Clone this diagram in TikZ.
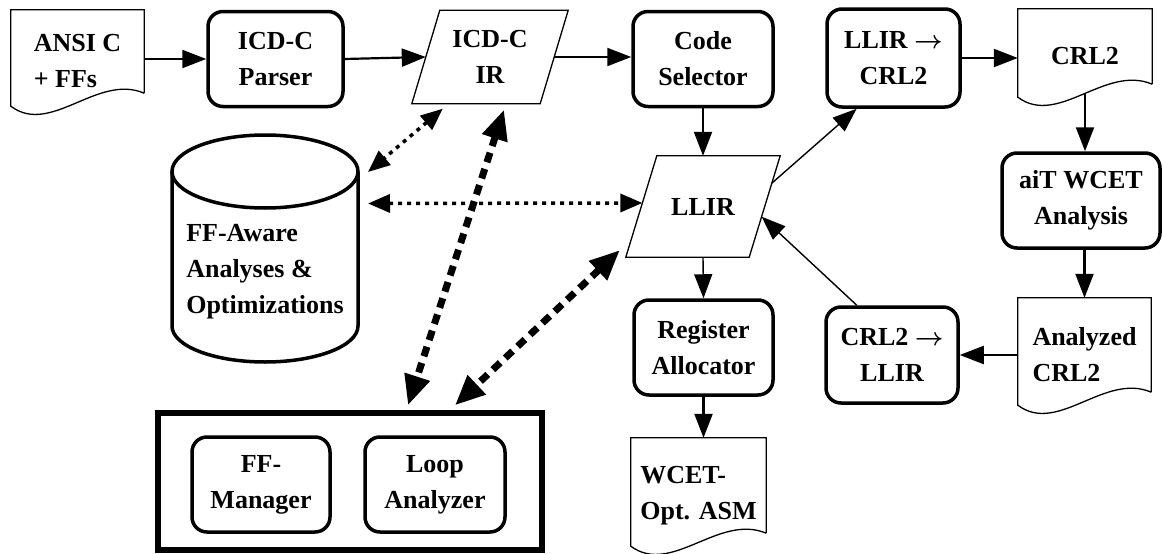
\documentclass[tikz,border=0pt]{standalone}
\usepackage{fontspec}
\setmainfont{Liberation Serif}
\usepackage{tikz}
\usetikzlibrary{positioning,arrows.meta,shapes.geometric,calc}

\tikzset{
  every node/.style={font=\fontsize{26}{36}\selectfont\bfseries},
  tool/.style={draw, line width=3.5pt, rounded corners=15pt, align=center,
    inner sep=2pt, minimum height=95pt},
  irdata/.style={align=center, inner sep=2pt},
  docfile/.style={align=left, inner sep=0pt},
  flow/.style={-{Triangle[length=24pt,width=18pt]}, line width=2.2pt},
  thinflow/.style={flow, line width=1.4pt},
  dotlink/.style={{Triangle[length=22pt,width=18pt]}-{Triangle[length=22pt,width=18pt]},
    line width=3.5pt, dash pattern=on 4pt off 5pt},
  dashlink/.style={{Triangle[length=30pt,width=25pt]}-{Triangle[length=30pt,width=25pt]},
    line width=7pt, dash pattern=on 10pt off 7pt}
}

% document outline with wavy bottom (node spans top to lowest point of the wave)
\newcommand{\docoutline}[1]{%
  \draw[line width=1.3pt] ($(#1.south east)+(0,-20)$) -- (#1.north east) -- (#1.north west)
    -- ($(#1.south west)+(0,-7)$)
    .. controls ($(#1.south west)!0.3!(#1.south east)+(0,23)$)
    and ($(#1.south west)!0.65!(#1.south east)+(0,-40)$) .. ($(#1.south east)+(0,-20)$);}

% slanted data outline, #2 = horizontal offset of the top edge
\newcommand{\irslant}[2]{%
  \coordinate (#1-bl) at (#1.south west);
  \coordinate (#1-tl) at ($(#1.north west)+(#2,0)$);
  \coordinate (#1-tr) at (#1.north east);
  \coordinate (#1-br) at ($(#1.south east)+(-#2,0)$);
  \draw[line width=1.3pt] (#1-bl) -- (#1-tl) -- (#1-tr) -- (#1-br) -- cycle;}

\newcommand{\toarrow}{{\boldmath$\rightarrow$}}

\begin{document}
\begin{tikzpicture}[x=1pt,y=-1pt]
  \useasboundingbox (0,0) rectangle (1163,554);

  % Front end
  \node[docfile, minimum width=133pt, minimum height=103pt] (ansi) at (77.5,61.5) {ANSI C\\+ FFs};
  \docoutline{ansi}
  \node[tool, minimum width=135pt] (parser) at (275.5,59) {ICD-C\\Parser};
  \node[irdata, minimum width=156pt, minimum height=93pt] (ir) at (490,57) {ICD-C\\IR};
  \irslant{ir}{28}
  \node[tool, minimum width=140pt] (cs) at (703,59) {Code\\Selector};

  % Back end
  \node[irdata, minimum width=154pt, minimum height=101pt] (llir) at (703,206.5) {LLIR};
  \irslant{llir}{31}
  \node[tool, minimum width=139pt] (reg) at (703.5,347.5) {Register\\Allocator};
  \node[docfile, minimum width=135pt, minimum height=115pt] (wcet) at (698.5,495.5) {WCET-\\Opt. ASM};
  \docoutline{wcet}

  % WCET analysis loop
  \node[tool, minimum width=133pt, minimum height=98pt] (llc) at (893.5,58) {LLIR \toarrow\\CRL2};
  \node[docfile, minimum width=134pt, minimum height=95pt] (crl) at (1085,56.5) {CRL2};
  \docoutline{crl}
  \node[tool, minimum width=158pt] (ait) at (1081,200.5) {aiT WCET\\Analysis};
  \node[docfile, minimum width=133pt, minimum height=114pt] (acrl) at (1084.5,355) {Analyzed\\CRL2};
  \docoutline{acrl}
  \node[tool, minimum width=132pt, minimum height=96pt] (cl) at (892,355) {CRL2 \toarrow\\LLIR};

  % Optimizations and flow fact tools
  \node[minimum width=186pt, minimum height=227pt, inner sep=0pt, outer sep=0pt] (dbshape) at (265,248.5) {};
  \draw[line width=3.5pt] ($(dbshape.north west)+(0,36.5)$) -- ($(dbshape.south west)+(0,-36)$)
    arc[start angle=180, end angle=360, x radius=93pt, y radius=36pt]
    -- ($(dbshape.north east)+(0,36.5)$);
  \draw[line width=3.5pt] ($(dbshape.north)+(0,36.5)$) ellipse[x radius=93pt, y radius=36.5pt];
  \node[align=left] (db) at (265,272) {FF-Aware\\Analyses \&\\Optimizations};
  \node[draw, line width=5.5pt, minimum width=384pt, minimum height=137pt] (tools) at (350,481.5) {};
  \node[tool, minimum width=138pt] (ffm) at (261,484.5) {FF-\\Manager};
  \node[tool, minimum width=140pt] (loop) at (435,484.5) {Loop\\Analyzer};

  % Compiler flow
  \draw[flow] (parser.west -| ansi.east) -- (parser.west);
  \draw[flow] (parser.east) -- ($(ir.west)+(14,0)$);
  \draw[flow] ($(ir.east)+(-14,0)$) -- (ir.east -| cs.west);
  \draw[flow] (cs) -- (llir.north);
  \draw[thinflow] (llir.south) -- (reg.north);
  \draw[flow] (reg.south) -- (reg.south |- wcet.north);
  \draw[thinflow] ($(llir-tr)!0.27!(llir-br)$) -- ($(llc.south west)!0.23!(llc.south east)$);
  \draw[flow] (llc) -- (llc -| crl.west);
  \draw[flow] ($(crl.south)+(0,-10)$) -- (crl.south |- ait.north);
  \draw[flow] (acrl.north |- ait.south) -- (acrl.north);
  \draw[flow] (acrl.west) -- (acrl.west -| cl.east);
  \draw[thinflow] ($(cl.north west)!0.24!(cl.north east)$) -- ($(llir-tr)!0.6!(llir-br)$);

  % Analysis links
  \draw[dotlink] ($(ir-bl)+(31,5)$) -- ($(dbshape.east)+(10,-76.5)$);
  \draw[dotlink] ($(dbshape.east)+(10,-45)$) -- ($(llir-tl)!0.465!(llir-bl)$);
  \draw[dashlink] ($(ir.south)+(14,6)$) -- ($(tools.north)+(58,-5)$);
  \draw[dashlink] ($(llir-bl)+(-6,-7)$) -- ($(tools.north)+(105,-5)$);
\end{tikzpicture}
\end{document}
